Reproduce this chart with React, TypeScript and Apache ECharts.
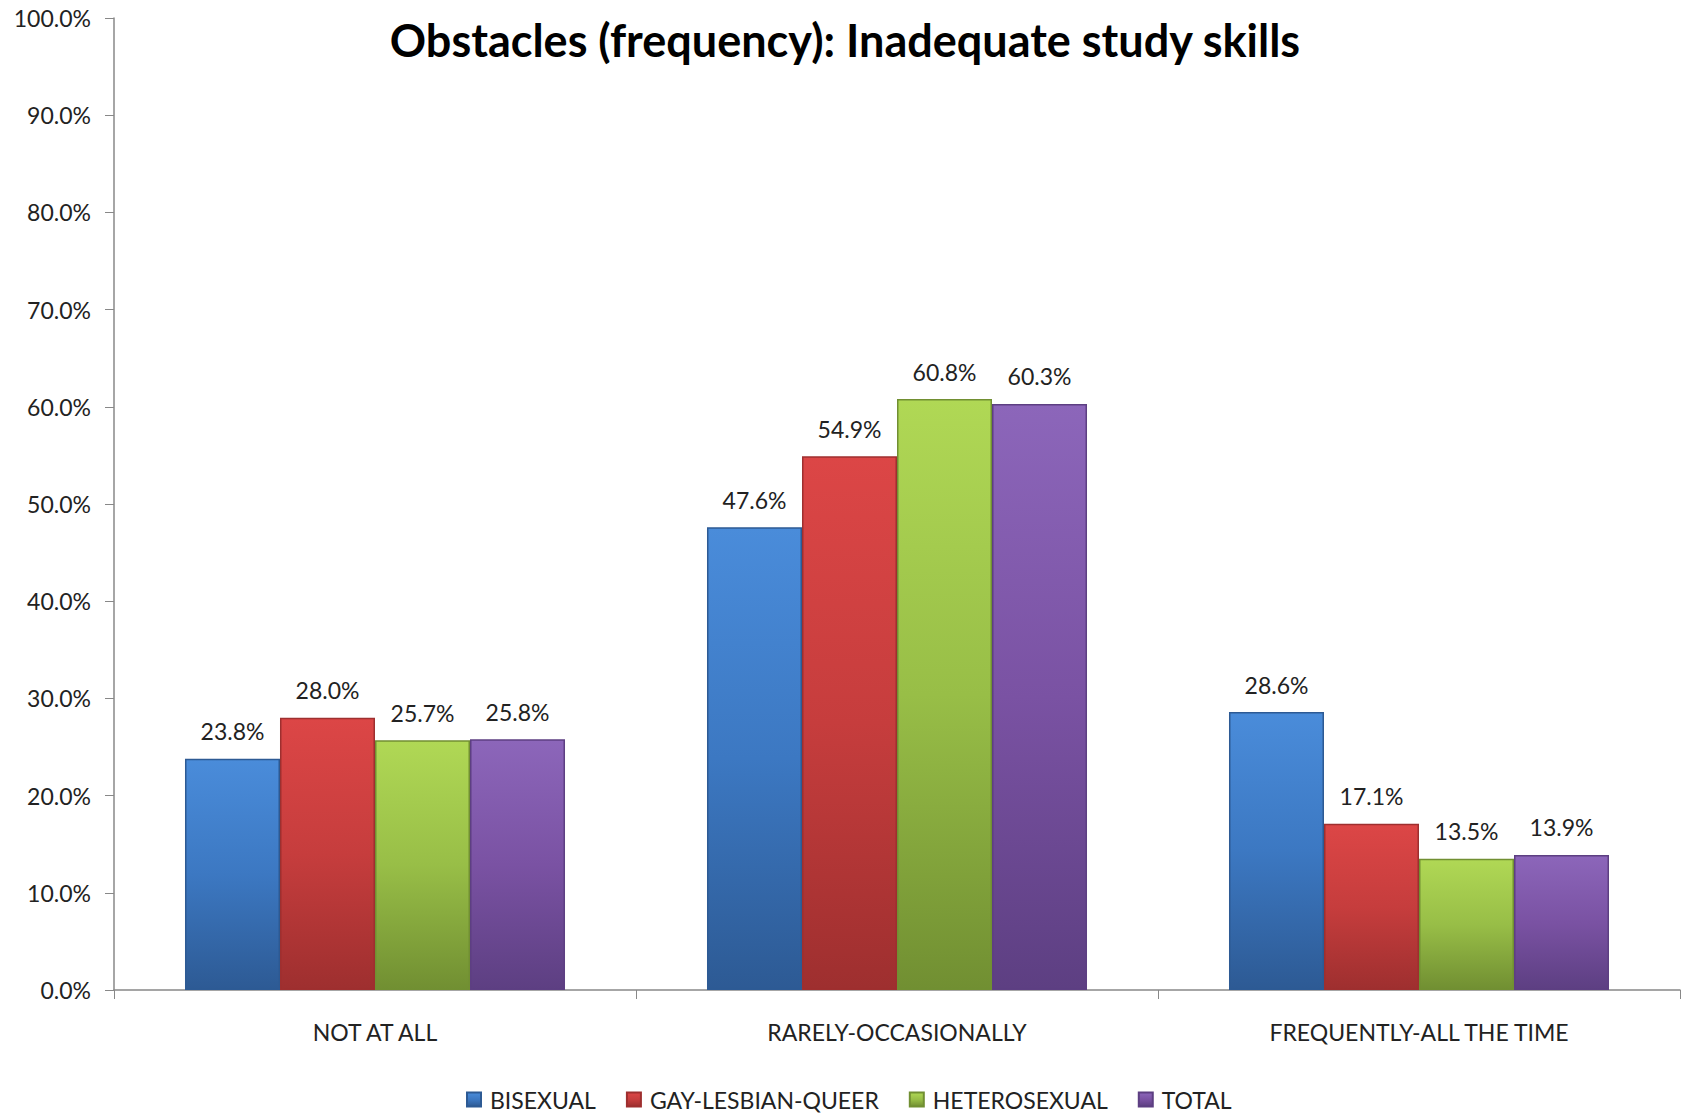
import React, { useEffect, useRef } from "react";
import * as echarts from "echarts";

const categories = ["NOT AT ALL", "RARELY-OCCASIONALLY", "FREQUENTLY-ALL THE TIME"];
const seriesNames = ["BISEXUAL", "GAY-LESBIAN-QUEER", "HETEROSEXUAL", "TOTAL"];
const bisexual = [23.8, 47.6, 28.6];
const gayLesbianQueer = [28.0, 54.9, 17.1];
const heterosexual = [25.7, 60.8, 13.5];
const total = [25.8, 60.3, 13.9];
const seriesValues = [bisexual, gayLesbianQueer, heterosexual, total];
const palette = [
  ["#4A8CDA", "#3C78C2", "#2D5A94"],
  ["#DC4646", "#C63D3D", "#9E2F2F"],
  ["#B0D855", "#98BE47", "#718F32"],
  ["#8C66BA", "#7A52A3", "#5D3F82"],
];

const FONT = "Lato, 'Open Sans', sans-serif";

export default function App() {
  const ref = useRef<HTMLDivElement>(null);
  useEffect(() => {
    if (!ref.current) return;
    const chart = echarts.init(ref.current, null, { renderer: "svg" });
    chart.setOption({
      animation: false,
      backgroundColor: "#ffffff",
      title: {
        text: "Obstacles (frequency): Inadequate study skills",
        left: 840,
        textAlign: "center",
        top: 12,
        textStyle: { fontFamily: FONT, fontSize: 45, fontWeight: "bold", color: "#000" },
      },
      legend: {
        top: 1083,
        left: 461,
        itemWidth: 14,
        itemHeight: 14,
        itemGap: 30,
        icon: "rect",
        textStyle: { fontFamily: FONT, fontSize: 23, color: "#222", padding: [0, 0, 0, 4] },
        data: seriesNames,
      },
      grid: { left: 114, right: 3, top: 18, bottom: 124, containLabel: false },
      xAxis: {
        type: "category",
        data: categories,
        axisLine: { lineStyle: { color: "#888", width: 1.5 } },
        axisTick: { show: true, length: 9, alignWithLabel: false, lineStyle: { color: "#888" } },
        axisLabel: { fontFamily: FONT, fontSize: 23, color: "#222", margin: 30 },
      },
      yAxis: {
        type: "value",
        min: 0,
        max: 100,
        interval: 10,
        splitLine: { show: false },
        axisLine: { show: true, lineStyle: { color: "#888", width: 1.5 } },
        axisTick: { show: true, length: 9, lineStyle: { color: "#888" } },
        axisLabel: {
          fontFamily: FONT,
          fontSize: 23,
          color: "#222",
          margin: 23,
          formatter: (v: number) => v.toFixed(1) + "%",
        },
      },
      series: seriesNames.map((name, i) => ({
        name,
        type: "bar",
        data: seriesValues[i],
        barGap: "0%",
        barCategoryGap: "27.2%",
        itemStyle: {
          color: new echarts.graphic.LinearGradient(0, 0, 0, 1, [
            { offset: 0, color: palette[i][0] },
            { offset: 0.5, color: palette[i][1] },
            { offset: 1, color: palette[i][2] },
          ]),
          borderColor: palette[i][2],
          borderWidth: 1.5,
        },
        label: {
          show: true,
          position: "top",
          distance: 16,
          fontFamily: FONT,
          fontSize: 23,
          color: "#222",
          formatter: (p: any) => p.value.toFixed(1) + "%",
        },
      })),
    });
    return () => chart.dispose();
  }, []);
  return (
    <div
      ref={ref}
      style={{ position: "fixed", left: 0, top: 0, width: 1683, height: 1114, overflow: "hidden" }}
    />
  );
}
